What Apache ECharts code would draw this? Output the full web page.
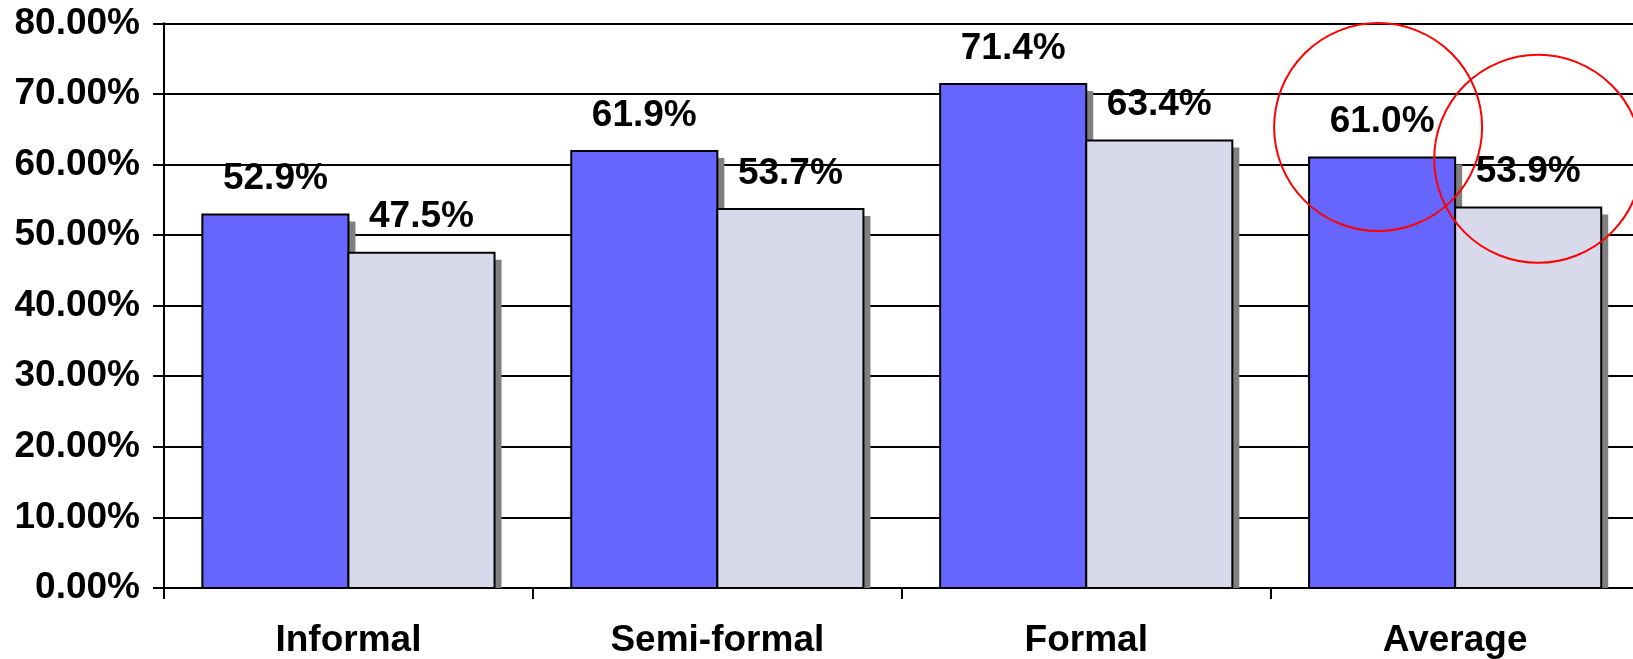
<!DOCTYPE html>
<html>
<head>
<meta charset="utf-8">
<script src="https://cdn.jsdelivr.net/npm/echarts@6/dist/echarts.min.js"></script>
<style>
html,body{margin:0;padding:0;background:#fff;}
#chart{width:1633px;height:659px;}
</style>
</head>
<body>
<div id="chart"></div>
<script>
// ---- data ----
const categories = ['Informal', 'Semi-formal', 'Formal', 'Average'];
const seriesA = [52.9, 61.9, 71.4, 61.0];
const seriesB = [47.5, 53.7, 63.4, 53.9];
const yTicks = [0, 10, 20, 30, 40, 50, 60, 70, 80];

// annotation circles (highlighting the Average bars): [category, seriesIndex, value at centre]
const circleTargets = [['Average', 0, 65.3], ['Average', 1, 60.8]];

const FONT = '"Liberation Sans", Arial, Helvetica, sans-serif';
const catGap = 0.208;
const colors = ['#6666FF', '#D9D9EC'];
const SHADOW = 7;

const chart = echarts.init(document.getElementById('chart'), null, {renderer: 'canvas'});

function makeRender(si) {
  return function (params, api) {
    const ci = api.value(0);
    const val = api.value(1);
    const top = api.coord([ci, val]);
    const base = api.coord([ci, 0]);
    const band = api.size([1, 0])[0];
    const barW = band * (1 - catGap) / 2;
    const x = top[0] + (si === 0 ? -barW : 0);
    const h = base[1] - top[1];
    return {
      type: 'group',
      children: [
        {
          type: 'rect',
          shape: {x: x + SHADOW, y: top[1] + SHADOW, width: barW, height: Math.max(0, h - SHADOW)},
          style: {fill: '#808080'}
        },
        {
          type: 'rect',
          shape: {x: x, y: top[1], width: barW, height: h},
          style: {fill: colors[si], stroke: '#000', lineWidth: 2},
          textContent: {
            style: {
              text: val.toFixed(1) + '%',
              fill: '#000',
              fontFamily: FONT,
              fontWeight: 'bold',
              fontSize: 37
            }
          },
          textConfig: {position: 'top', distance: 16}
        }
      ]
    };
  };
}

const toPairs = (arr) => arr.map((v, i) => [i, v]);

chart.setOption({
  animation: false,
  backgroundColor: '#fff',
  grid: {left: 164, top: 23.3, width: 1475.6, bottom: 71, containLabel: false, outerBoundsMode: 'none'},
  xAxis: {
    type: 'category',
    data: categories,
    axisLine: {show: true, lineStyle: {color: '#000', width: 2}},
    axisTick: {show: true, length: 11, lineStyle: {color: '#000', width: 2}},
    axisLabel: {color: '#000', fontFamily: FONT, fontWeight: 'bold', fontSize: 37, margin: 34},
    splitLine: {show: false}
  },
  yAxis: {
    type: 'value',
    min: yTicks[0],
    max: yTicks[yTicks.length - 1],
    interval: yTicks[1] - yTicks[0],
    axisLine: {show: true, lineStyle: {color: '#000', width: 2}},
    axisTick: {show: true, length: 11, lineStyle: {color: '#000', width: 2}},
    axisLabel: {color: '#000', fontFamily: FONT, fontWeight: 'bold', fontSize: 37, margin: 24,
      formatter: (v) => v.toFixed(2) + '%'},
    splitLine: {show: true, lineStyle: {color: '#000', width: 2}}
  },
  series: [
    {type: 'custom', data: toPairs(seriesA), encode: {x: 0, y: 1}, renderItem: makeRender(0), z: 2},
    {type: 'custom', data: toPairs(seriesB), encode: {x: 0, y: 1}, renderItem: makeRender(1), z: 2}
  ]
});

// place annotation circles relative to the bars, via the axes
function drawCircles() {
  const p0 = chart.convertToPixel({gridIndex: 0}, [0, 0]);
  const p1 = chart.convertToPixel({gridIndex: 0}, [1, 0]);
  const band = p1[0] - p0[0];
  const barW = band * (1 - catGap) / 2;
  const r = 104;
  const elements = circleTargets.map(([cat, si, val]) => {
    const ci = categories.indexOf(cat);
    const c = chart.convertToPixel({gridIndex: 0}, [ci, val]);
    const cx = c[0] + (si === 0 ? -barW / 2 - 4 : barW / 2 + 10);
    return {
      type: 'circle',
      shape: {cx: cx, cy: c[1], r: r},
      style: {fill: 'none', stroke: '#FF0000', lineWidth: 2},
      z: 100
    };
  });
  chart.setOption({graphic: elements});
}
drawCircles();
</script>
</body>
</html>
